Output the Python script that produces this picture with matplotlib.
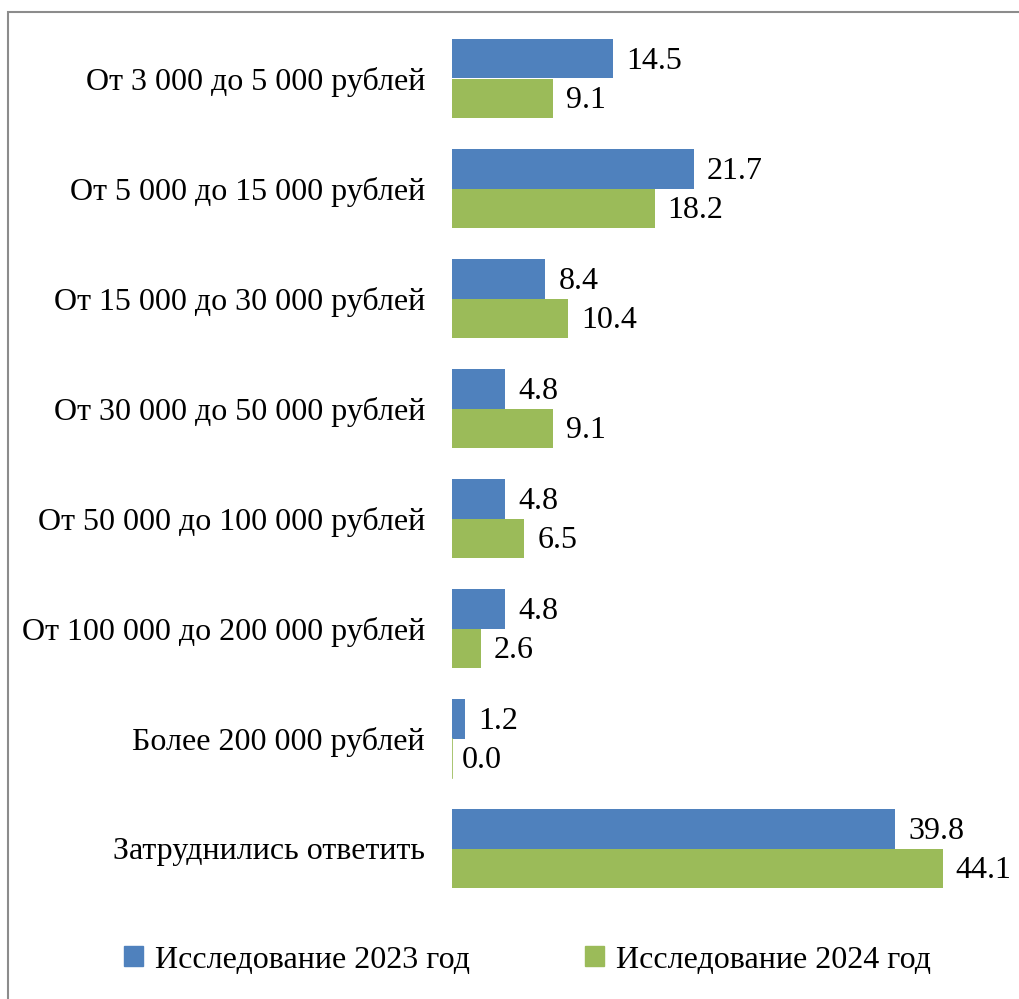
import matplotlib
matplotlib.use("Agg")
import matplotlib.pyplot as plt
from matplotlib.patches import Rectangle, Patch
import numpy as np

categories = [
    "От 3 000 до 5 000 рублей",
    "От 5 000 до 15 000 рублей",
    "От 15 000 до 30 000 рублей",
    "От 30 000 до 50 000 рублей",
    "От 50 000 до 100 000 рублей",
    "От 100 000 до 200 000 рублей",
    "Более 200 000 рублей",
    "Затруднились ответить",
]
values_2023 = [14.5, 21.7, 8.4, 4.8, 4.8, 4.8, 1.2, 39.8]
values_2024 = [9.1, 18.2, 10.4, 9.1, 6.5, 2.6, 0.0, 44.1]
series_names = ["Исследование 2023 год", "Исследование 2024 год"]
colors = ["#4F81BD", "#9BBB59"]

plt.rcParams['font.family'] = ['Liberation Serif', 'DejaVu Serif']
FS = 23

W, H = 1020, 999
fig = plt.figure(figsize=(W / 100, H / 100), dpi=100)

# axes: x0 at 452px, 11.13 px/unit; y from 23.5 to 903.5 px
x0 = 452
xmax = 50
ppu = 11.13
top_px, bot_px = 23.5, 903.5
ax = fig.add_axes([x0 / W, 1 - bot_px / H, xmax * ppu / W, (bot_px - top_px) / H])

n = len(categories)
y = np.arange(n)
bh = 0.359
ax.barh(y - bh / 2, values_2023, height=bh, color=colors[0], label=series_names[0])
ax.barh(y + bh / 2, values_2024, height=bh, color=colors[1], label=series_names[1])
# thin line for zero bar
for yi, v in zip(y, values_2024):
    if v == 0:
        ax.plot([0.02, 0.02], [yi, yi + bh], color=colors[1], lw=1.2)

for yi, v in zip(y, values_2023):
    ax.annotate(f"{v:.1f}", (v, yi - bh / 2), xytext=(13, 1), textcoords="offset pixels",
                va="center_baseline", ha="left", fontsize=FS, color="black")
for yi, v in zip(y, values_2024):
    ax.annotate(f"{v:.1f}", (v, yi + bh / 2), xytext=(13 if v > 0 else 10, 1), textcoords="offset pixels",
                va="center_baseline", ha="left", fontsize=FS, color="black")

ax.set_ylim(n - 0.5, -0.5)
ax.set_xlim(0, xmax)
ax.set_yticks(y)
ax.set_yticklabels(categories, fontsize=FS)
ax.tick_params(axis='y', length=0, pad=19.4)
ax.set_xticks([])
for s in ax.spines.values():
    s.set_visible(False)

handles = [Patch(color=colors[0]), Patch(color=colors[1])]
fig.legend(handles, series_names, loc="center", bbox_to_anchor=(527.5 / W, 1 - 960 / H),
           ncol=2, frameon=False, fontsize=FS, handlelength=0.6, handleheight=0.6,
           handletextpad=0.38, columnspacing=3.6, borderaxespad=0, borderpad=0)

# outer border
fig.patches.append(Rectangle((8 / W, -0.1), 1.2, 1 - 12 / H + 0.1, transform=fig.transFigure,
                             fill=False, edgecolor="#8c8c8c", lw=1.5))

fig.savefig("out.png", dpi=100)
